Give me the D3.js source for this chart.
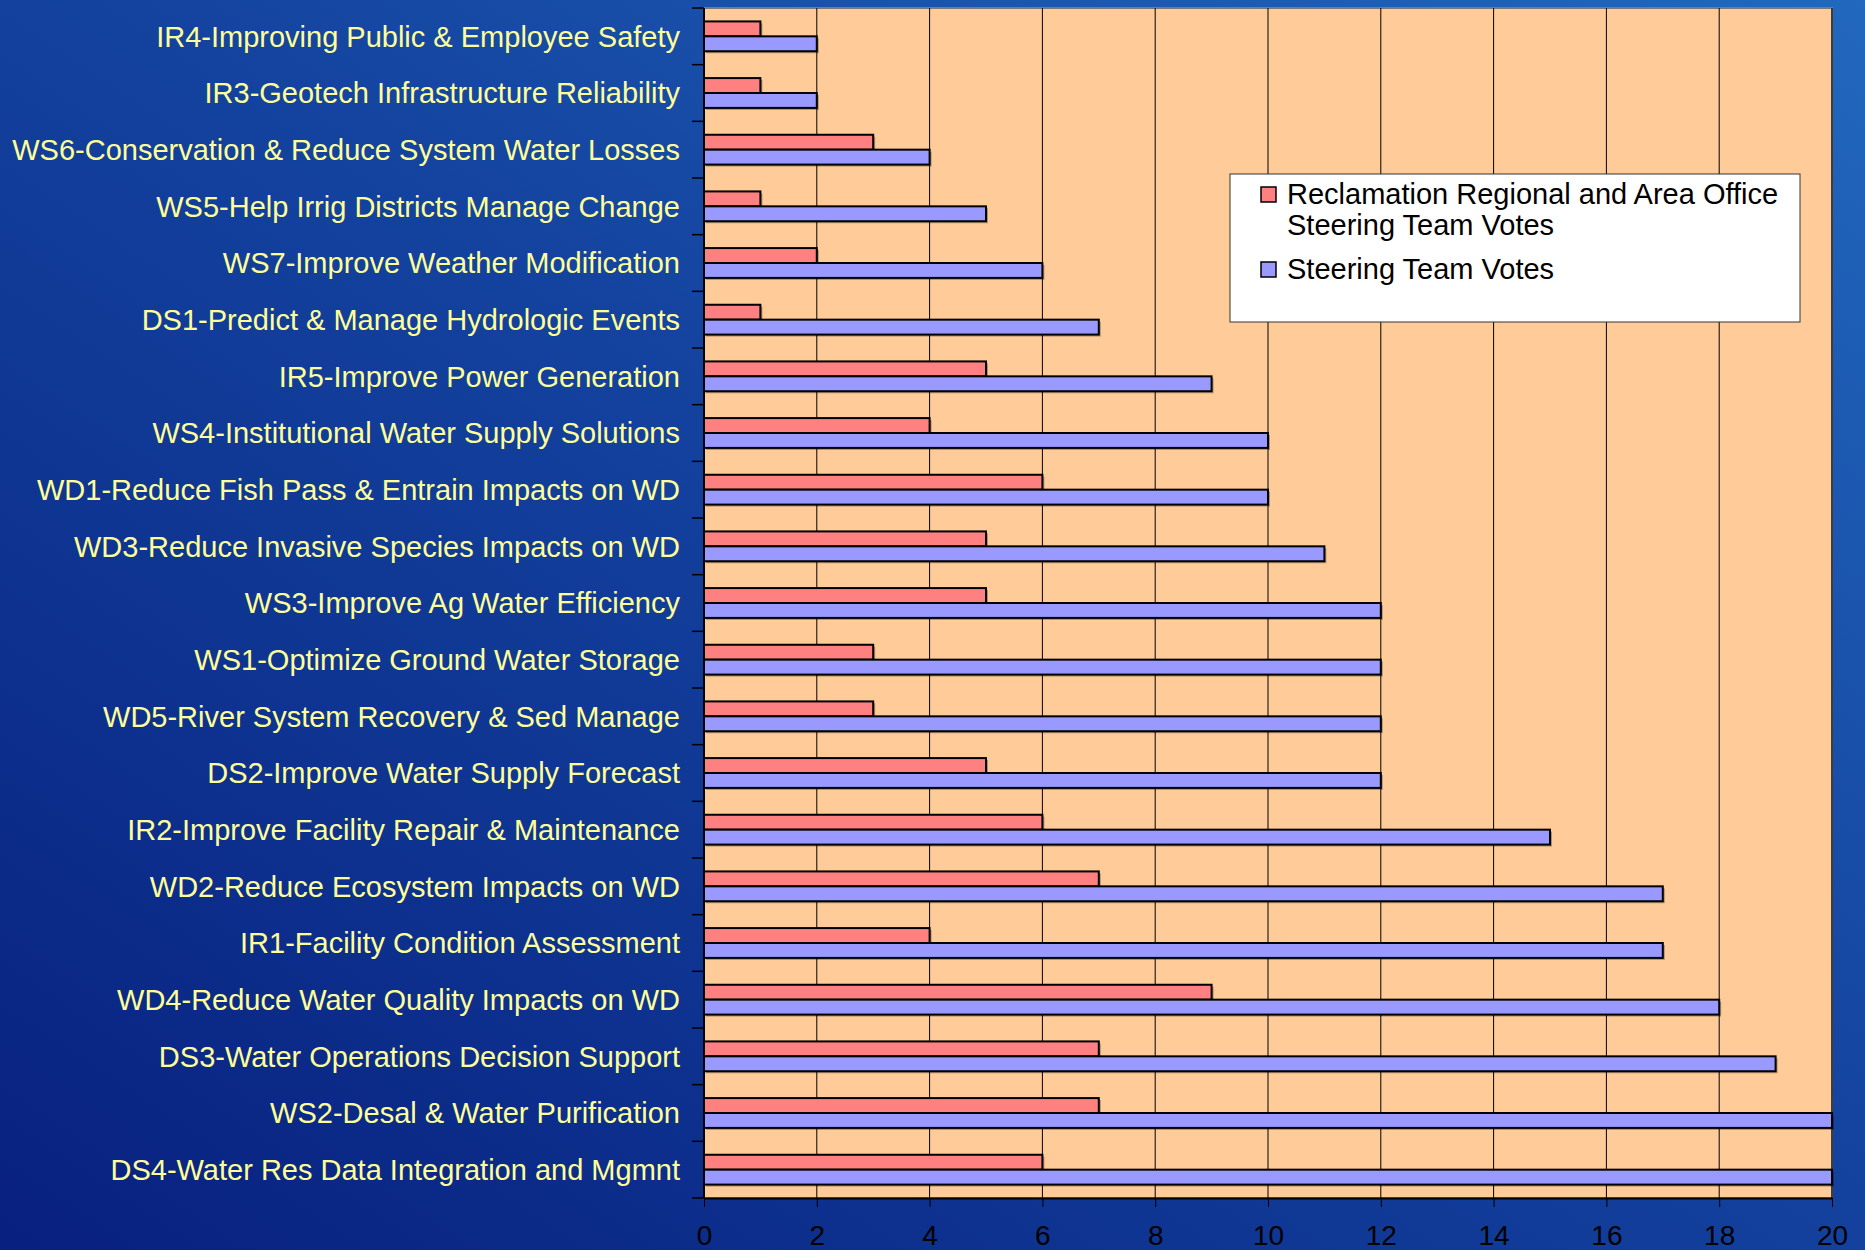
<!DOCTYPE html>
<html>
<head>
<meta charset="utf-8">
<script src="https://cdn.jsdelivr.net/npm/d3@7"></script>
<style>
    body { margin: 0; overflow: hidden; }
    text { font-family: "Liberation Sans", Arial, sans-serif; }
</style>
</head>
<body>
<div id="chart"></div>
<script>
// --------------------------------------------------
// Chart data (top row first)

var categories = [
    "IR4-Improving Public & Employee Safety",
    "IR3-Geotech Infrastructure Reliability",
    "WS6-Conservation & Reduce System Water Losses",
    "WS5-Help Irrig Districts Manage Change",
    "WS7-Improve Weather Modification",
    "DS1-Predict & Manage Hydrologic Events",
    "IR5-Improve Power Generation",
    "WS4-Institutional Water Supply Solutions",
    "WD1-Reduce Fish Pass & Entrain Impacts on WD",
    "WD3-Reduce Invasive Species Impacts on WD",
    "WS3-Improve Ag Water Efficiency",
    "WS1-Optimize Ground Water Storage",
    "WD5-River System Recovery & Sed Manage",
    "DS2-Improve Water Supply Forecast",
    "IR2-Improve Facility Repair & Maintenance",
    "WD2-Reduce Ecosystem Impacts on WD",
    "IR1-Facility Condition Assessment",
    "WD4-Reduce Water Quality Impacts on WD",
    "DS3-Water Operations Decision Support",
    "WS2-Desal & Water Purification",
    "DS4-Water Res Data Integration and Mgmnt"
];

var regionalVotes = [1, 1, 3, 1, 2, 1, 5, 4, 6, 5, 5, 3, 3, 5, 6, 7, 4, 9, 7, 7, 6];
var steeringVotes = [2, 2, 4, 5, 6, 7, 9, 10, 10, 11, 12, 12, 12, 12, 15, 17, 17, 18, 19, 20, 20];

var seriesKeys = ["regional", "steering"];
var seriesColors = ["#FF8080", "#9999FF"];
var legendLabels = [
    ["Reclamation Regional and Area Office", "Steering Team Votes"],
    ["Steering Team Votes"]
];
var xTicks = [0, 2, 4, 6, 8, 10, 12, 14, 16, 18, 20];

// --------------------------------------------------
// Canvas

var W = 1865, H = 1250;
var margin = { left: 704, right: 33, top: 8, bottom: 52 };
var width = W - margin.left - margin.right;
var height = H - margin.top - margin.bottom;

var svg = d3.select("#chart")
    .append("svg")
    .attr("width", W)
    .attr("height", H);

// blue slide background
var defs = svg.append("defs");
var grad = defs.append("linearGradient")
    .attr("id", "bg")
    .attr("x1", "0").attr("y1", "1")
    .attr("x2", "1").attr("y2", "0");
grad.append("stop").attr("offset", "0%").attr("stop-color", "#08207F");
grad.append("stop").attr("offset", "55%").attr("stop-color", "#1444A0");
grad.append("stop").attr("offset", "100%").attr("stop-color", "#2268BE");

svg.append("rect")
    .attr("width", W)
    .attr("height", H)
    .attr("fill", "url(#bg)");

var g = svg.append("g")
    .attr("transform", "translate(" + margin.left + ", " + margin.top + ")");

// plot area
g.append("rect")
    .attr("x", 0)
    .attr("y", 0)
    .attr("width", width)
    .attr("height", height)
    .attr("fill", "#FFCC99")
    .attr("stroke", "#7a7a7a")
    .attr("stroke-width", 2);

// scales
var x = d3.scaleLinear()
    .domain([0, 20])
    .range([0, width]);

var y = d3.scaleBand()
    .domain(categories)
    .range([0, height])
    .paddingInner(0)
    .paddingOuter(0);

var ySub = d3.scaleBand()
    .domain(seriesKeys)
    .range([0, y.bandwidth()])
    .paddingInner(0)
    .paddingOuter(0.9);

var color = d3.scaleOrdinal()
    .domain(seriesKeys)
    .range(seriesColors);

// vertical grid lines
g.append("g")
    .attr("class", "grid")
    .selectAll("line")
    .data(xTicks.slice(1))
    .enter()
    .append("line")
    .attr("x1", function(d) { return x(d); })
    .attr("x2", function(d) { return x(d); })
    .attr("y1", 0)
    .attr("y2", height)
    .attr("stroke", "#000")
    .attr("stroke-width", 1);

// bars
var rows = categories.map(function(c, i) {
    return {
        name: c,
        values: [
            { key: "regional", v: regionalVotes[i] },
            { key: "steering", v: steeringVotes[i] }
        ]
    };
});

var groups = g.selectAll(".cat")
    .data(rows)
    .enter()
    .append("g")
    .attr("class", "cat")
    .attr("transform", function(d) { return "translate(0, " + y(d.name) + ")"; });

// little drop shadow behind each bar
groups.selectAll(".shadow")
    .data(function(d) { return d.values; })
    .enter()
    .append("rect")
    .attr("class", "shadow")
    .attr("x", x(0) + 2)
    .attr("y", function(d) { return ySub(d.key) + 2; })
    .attr("width", function(d) { return x(d.v) - x(0); })
    .attr("height", ySub.bandwidth())
    .attr("fill", "#000")
    .attr("opacity", 0.3);

groups.selectAll(".bar")
    .data(function(d) { return d.values; })
    .enter()
    .append("rect")
    .attr("class", "bar")
    .attr("x", x(0))
    .attr("y", function(d) { return ySub(d.key); })
    .attr("width", function(d) { return x(d.v) - x(0); })
    .attr("height", ySub.bandwidth())
    .attr("fill", function(d) { return color(d.key); })
    .attr("stroke", "#000")
    .attr("stroke-width", 2);

// x axis
var xAxisCall = d3.axisBottom(x)
    .tickValues(xTicks)
    .tickSizeInner(9)
    .tickSizeOuter(0)
    .tickPadding(18);

var xAxis = g.append("g")
    .attr("class", "x-axis")
    .attr("transform", "translate(0, " + height + ")")
    .call(xAxisCall);
xAxis.select(".domain")
    .attr("stroke", "#000")
    .attr("stroke-width", 2);
xAxis.selectAll(".tick line").attr("stroke", "#000");
xAxis.selectAll("text")
    .attr("font-size", "28px")
    .attr("font-family", "'Liberation Sans', Arial, sans-serif")
    .attr("fill", "#000");

// y axis: labels at band centres, ticks on band edges
var yAxisCall = d3.axisLeft(y)
    .tickSize(0)
    .tickPadding(24);

var yAxis = g.append("g")
    .attr("class", "y-axis")
    .call(yAxisCall);
yAxis.select(".domain").remove();
yAxis.selectAll("text")
    .attr("font-size", "29px")
    .attr("dy", "0.36em")
    .attr("font-family", "'Liberation Sans', Arial, sans-serif")
    .attr("fill", "#FFFF99");

var edges = categories.map(function(c) { return y(c); }).concat([height]);
g.append("g")
    .selectAll("line")
    .data(edges)
    .enter()
    .append("line")
    .attr("x1", -12)
    .attr("x2", 0)
    .attr("y1", function(d) { return d; })
    .attr("y2", function(d) { return d; })
    .attr("stroke", "#000")
    .attr("stroke-width", 1.5);

g.append("line")
    .attr("x1", 0)
    .attr("x2", 0)
    .attr("y1", 0)
    .attr("y2", height)
    .attr("stroke", "#000")
    .attr("stroke-width", 2);

// legend
var legend = svg.append("g")
    .attr("class", "legend")
    .attr("transform", "translate(1230, 174)");

legend.append("rect")
    .attr("width", 570)
    .attr("height", 148)
    .attr("fill", "#fff")
    .attr("stroke", "#333")
    .attr("stroke-width", 1);

var legendRows = [30, 105];
legendLabels.forEach(function(lines, i) {
    legend.append("rect")
        .attr("x", 31)
        .attr("y", legendRows[i] - 17)
        .attr("width", 15)
        .attr("height", 15)
        .attr("fill", seriesColors[i])
        .attr("stroke", "#000")
        .attr("stroke-width", 1.5);
    lines.forEach(function(line, j) {
        legend.append("text")
            .attr("x", 57)
            .attr("y", legendRows[i] + j * 31)
            .attr("font-size", "29px")
            .attr("fill", "#000")
            .text(line);
    });
});
</script>
</body>
</html>
